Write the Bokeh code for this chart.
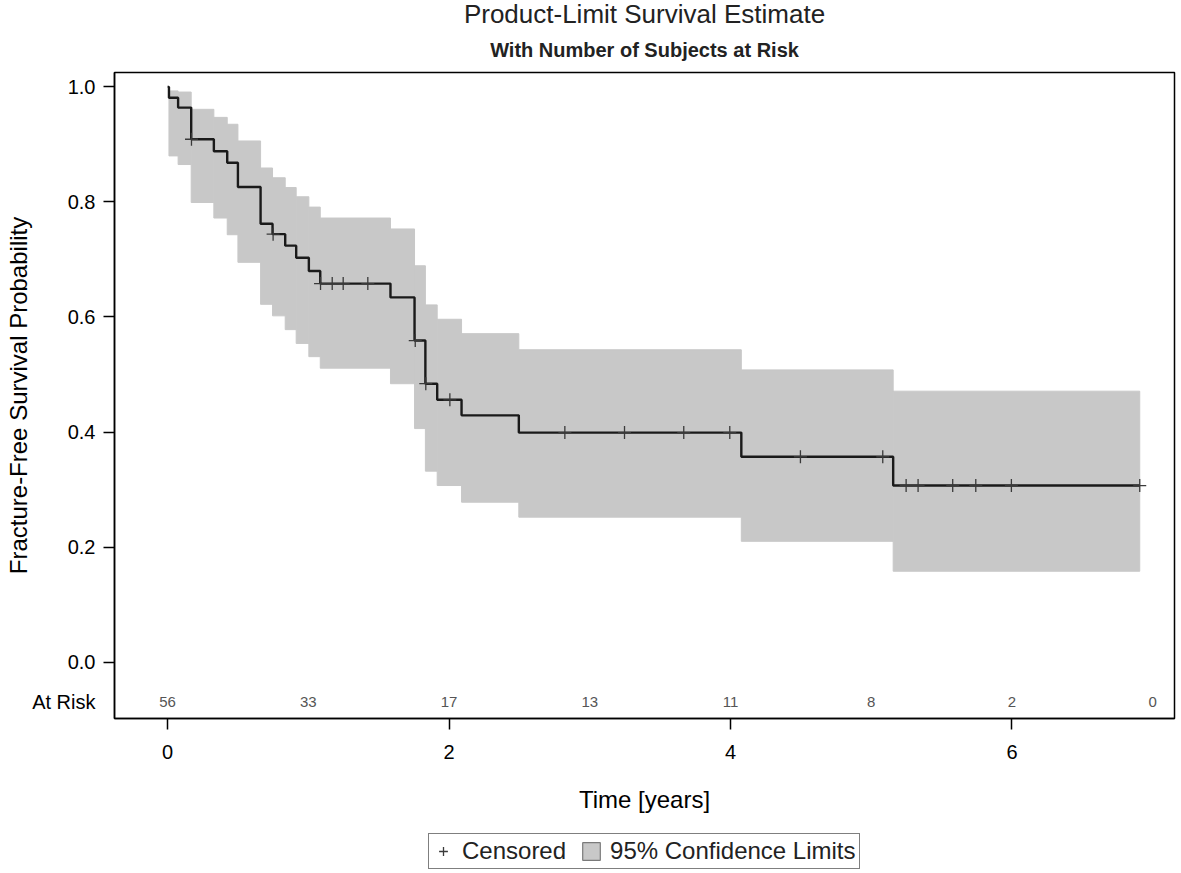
from bokeh.plotting import figure
from bokeh.layouts import column
from bokeh.models import Title, Legend, LegendItem, FixedTicker, LinearAxis, Range1d
from bokeh.core.properties import value
from bokeh.embed import file_html
from bokeh.resources import INLINE
import numpy as np

FONT = "Liberation Sans"
BAND = "#c8c8c8"

# Kaplan-Meier step points (time in years, survival after the step)
step_times = [0.0, 0.01, 0.075, 0.168, 0.329, 0.424, 0.500, 0.661, 0.746, 0.836,
              0.914, 1.004, 1.085, 1.584, 1.755, 1.832, 1.916, 2.089, 2.496, 4.077, 5.156]
survival = [1.000, 0.981, 0.964, 0.909, 0.888, 0.868, 0.826, 0.762, 0.744, 0.724,
            0.703, 0.680, 0.658, 0.634, 0.559, 0.484, 0.456, 0.429, 0.399, 0.357, 0.307]
upper_cl = [1.000, 0.993, 0.991, 0.961, 0.947, 0.935, 0.906, 0.859, 0.842, 0.825,
            0.809, 0.791, 0.772, 0.753, 0.689, 0.621, 0.596, 0.571, 0.543, 0.508, 0.471]
lower_cl = [1.000, 0.880, 0.865, 0.799, 0.772, 0.743, 0.695, 0.622, 0.602, 0.578,
            0.554, 0.531, 0.511, 0.484, 0.406, 0.332, 0.307, 0.278, 0.252, 0.210, 0.158]
end_time = 6.908

# censored observations (time in years)
censor_times = [0.17, 0.75, 1.087, 1.170, 1.248, 1.423, 1.76, 1.835, 2.006, 2.823,
                3.247, 3.668, 3.995, 4.497, 5.082, 5.248, 5.333, 5.579, 5.743, 5.996, 6.908]

# number at risk
risk_times = [0, 1, 2, 3, 4, 5, 6, 7]
at_risk = [56, 33, 17, 13, 11, 8, 2, 0]
risk_row_y = -0.069
risk_row_label = "At Risk"

x_ticks = [0, 2, 4, 6]
y_ticks = [0.0, 0.2, 0.4, 0.6, 0.8, 1.0]
y_tick_labels = ["0.0", "0.2", "0.4", "0.6", "0.8", "1.0"]

p = figure(width=1178, height=822, output_backend="svg", toolbar_location=None,
           x_range=Range1d(-0.377, 7.155), y_range=Range1d(-0.098, 1.025),
           title="Product-Limit Survival Estimate",
           min_border_left=114, min_border_right=4, min_border_top=72, min_border_bottom=104)

p.title.align = "center"
p.title.text_font = FONT
p.title.text_font_size = "26px"
p.title.text_font_style = "normal"
p.title.text_color = "#222222"
p.title.standoff = -7
p.add_layout(Title(text="With Number of Subjects at Risk", align="center", text_font=FONT,
                   text_font_size="20px", text_font_style="bold", text_color="#222222",
                   standoff=23), "above")

p.xgrid.visible = False
p.ygrid.visible = False
p.outline_line_color = "black"
p.outline_line_width = 1.5
p.background_fill_color = "white"
p.border_fill_color = "white"

# confidence band
band_left = step_times[1:]
band_right = step_times[2:] + [end_time]
band_bottom = lower_cl[1:]
band_top = upper_cl[1:]
p.quad(left=band_left, right=band_right, bottom=band_bottom, top=band_top,
       fill_color=BAND, line_color=BAND, line_width=1)

# survival step curve
line_x = step_times + [end_time]
line_y = survival + [survival[-1]]
p.step(x=line_x, y=line_y, mode="after", line_color="#1a1a1a", line_width=2.4)

# censored marks
st = np.array(step_times)
sv = np.array(survival)
idx = np.searchsorted(st, np.array(censor_times), side="right") - 1
censor_surv = sv[idx]
p.scatter(x=censor_times, y=censor_surv, marker="cross", size=13,
          line_color="#3a3a3a", line_width=1.3)

# number at risk row
p.text(x=risk_times, y=[risk_row_y] * len(risk_times), text=[str(n) for n in at_risk],
       text_align="center", text_baseline="middle", text_font=value(FONT),
       text_font_size="15px", text_color="#555555")

# x axis
xa = p.xaxis[0]
xa.ticker = FixedTicker(ticks=x_ticks)
xa.axis_label = "Time [years]"
xa.major_label_standoff = 15
xa.axis_label_standoff = 24

# inner y axis: line and tick marks only
ya = p.yaxis[0]
ya.ticker = FixedTicker(ticks=y_ticks)
ya.major_label_text_font_size = "0px"
ya.major_label_text_alpha = 0
ya.major_label_standoff = 0

# outer y axis: tick labels, "At Risk" and the axis title
ya2 = LinearAxis(ticker=FixedTicker(ticks=y_ticks + [risk_row_y]))
ya2.major_label_overrides = dict(zip(y_ticks + [risk_row_y], y_tick_labels + [risk_row_label]))
ya2.axis_label = "Fracture-Free Survival Probability"
ya2.axis_line_color = None
ya2.major_tick_line_color = None
ya2.major_tick_out = 0
ya2.major_tick_in = 0
ya2.major_label_standoff = 8
ya2.axis_label_standoff = -3
p.add_layout(ya2, "left")

for ax in (xa, ya):
    ax.axis_line_color = "black"
    ax.axis_line_width = 1.5
    ax.major_tick_line_color = "black"
    ax.major_tick_line_width = 1.5
    ax.major_tick_out = 11
    ax.major_tick_in = 0
for ax in (xa, ya, ya2):
    ax.minor_tick_line_color = None
    ax.axis_label_text_font = FONT
    ax.axis_label_text_font_size = "24px"
    ax.axis_label_text_font_style = "normal"
    ax.axis_label_text_color = "black"
for ax in (xa, ya2):
    ax.major_label_text_font = FONT
    ax.major_label_text_font_size = "20px"
    ax.major_label_text_color = "black"

# legend strip below the chart: its renderers reuse the data but lie outside its view
leg = figure(width=1178, height=48, output_backend="svg", toolbar_location=None,
             x_range=Range1d(-20, -19), y_range=Range1d(-20, -19),
             x_axis_type=None, y_axis_type=None, min_border=0)
leg.outline_line_color = None
leg.background_fill_color = "white"
leg.border_fill_color = "white"
lc = leg.scatter(x=censor_times, y=censor_surv, marker="cross", size=13,
                 line_color="#3a3a3a", line_width=1.3)
lb = leg.quad(left=band_left, right=band_right, bottom=band_bottom, top=band_top,
              fill_color=BAND, line_color="#7a7a7a", line_width=1.2)
legend = Legend(items=[LegendItem(label="Censored", renderers=[lc]),
                       LegendItem(label="95% Confidence Limits", renderers=[lb])],
                orientation="horizontal", location=(314, 1))
legend.border_line_color = "black"
legend.border_line_width = 1.5
legend.label_text_font = FONT
legend.label_text_font_size = "24px"
legend.label_text_color = "#222222"
legend.glyph_width = 22
legend.glyph_height = 22
legend.padding = 3
legend.spacing = 14
legend.label_standoff = 8
legend.margin = 0
leg.add_layout(legend)

layout = column(p, leg, spacing=0)
open("out.html", "w").write(file_html(layout, INLINE))
